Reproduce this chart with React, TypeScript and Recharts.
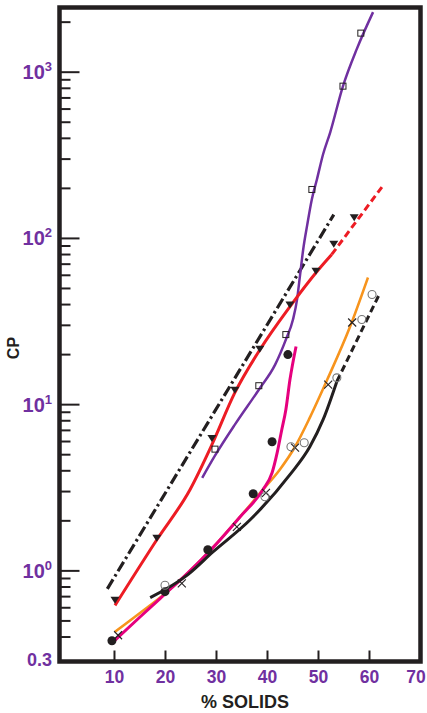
import React from 'react';
import { ComposedChart, Line, Scatter, XAxis, YAxis, ReferenceArea } from 'recharts';

// ---- axis settings / tick labels ----
const X_MIN = -0.78;
const X_MAX = 70;
const Y_MIN = 0.285;
const Y_MAX = 2450;
const X_TICKS = [10, 20, 30, 40, 50, 60, 70];
const Y_TICKS = [
  0.3, 0.4, 0.5, 0.6, 0.7, 0.8, 0.9,
  1, 2, 3, 4, 5, 6, 7, 8, 9,
  10, 20, 30, 40, 50, 60, 70, 80, 90,
  100, 200, 300, 400, 500, 600, 700, 800, 900,
  1000, 2000,
];
const Y_MAJOR_LABELS: Record<string, string> = { '1': '0', '10': '1', '100': '2', '1000': '3' };
const X_TITLE = '% SOLIDS';
const Y_TITLE = 'CP';

// ---- series (x = % solids, y = CP) ----
const dashDotLine: [number, number][] = [[8.6, 0.78], [53, 139]];
const redSolid: [number, number][] = [
  [10.1, 0.62], [18.3, 1.54], [24.8, 3.08], [29.1, 5.74], [33.6, 11.8],
  [38.5, 21.4], [44.4, 38.9], [49.7, 63.3], [52.6, 80.1],
];
const redDashed: [number, number][] = [[52.6, 80.1], [62.8, 211]];
const purpleLine: [number, number][] = [
  [27.2, 3.63], [29.7, 4.93], [33.6, 7.58], [38.3, 12.3], [41.5, 17.4],
  [43.6, 24.6], [45, 32.5], [45.8, 43], [46.4, 60.7], [47, 85.8],
  [47.8, 121], [48.7, 172], [49.7, 227], [50.9, 321], [52.3, 435],
  [54.8, 824], [57.5, 1376], [60.7, 2298],
];
const magentaLine: [number, number][] = [
  [9.7, 0.373], [15, 0.528], [19.9, 0.726], [24.4, 0.972], [29.3, 1.38],
  [34.6, 2.11], [39.1, 3.08], [40.9, 3.89], [41.9, 5.14], [42.8, 7.07],
  [43.6, 9.33], [44.4, 14.1], [45.6, 22.4],
];
const orangeLine: [number, number][] = [
  [10.1, 0.43], [15, 0.558], [20.3, 0.747], [24.4, 0.972], [29.3, 1.38],
  [34.6, 2.11], [39.1, 3.08], [42.4, 4.06], [45.4, 5.58], [48.3, 8.35],
  [51.7, 14.1], [56.2, 29.5], [59.7, 58.2],
];
const blackSolid: [number, number][] = [
  [17, 0.69], [24.4, 0.95], [29.3, 1.3], [36.6, 2.03], [44.4, 3.79],
  [48.3, 5.58], [50.9, 8.12], [53.6, 13.8],
];
const blackDashed: [number, number][] = [[53.6, 13.8], [62.1, 47.3]];

const triangleMarkers: [number, number][] = [
  [10.1, 0.67], [18.3, 1.58], [29.1, 6.3], [33.6, 12.3], [38.5, 21.7],
  [44.4, 40], [49.5, 64], [53, 93], [57, 134],
];
const squareMarkers: [number, number][] = [
  [29.7, 5.4], [38.3, 13], [43.6, 26.4], [48.7, 197], [54.8, 824], [58.3, 1718],
];
const dotMarkers: [number, number][] = [
  [9.5, 0.38], [19.9, 0.75], [28.3, 1.34], [37.2, 2.91], [40.9, 5.98], [44, 20],
];
const crossMarkers: [number, number][] = [
  [10.7, 0.41], [23.2, 0.84], [34, 1.84], [39.7, 2.95], [45.4, 5.51], [51.9, 13.2], [56.6, 31.2],
];
const ringMarkers: [number, number][] = [
  [19.9, 0.82], [39.5, 2.79], [44.6, 5.58], [47.2, 5.9], [53.6, 14.5], [58.5, 32.5], [60.5, 46],
];

const toRows = (pts: [number, number][]) => pts.map(([x, y]) => ({ x, y }));

// ---- colours / styles ----
const PURPLE = '#7030a0';
const RED = '#ed1c24';
const MAGENTA = '#e6007e';
const ORANGE = '#f7941d';
const BLACK = '#231f20';
const FONT = '"Liberation Sans", Arial, sans-serif';

const XTick = (props: any) => {
  const { x, y, payload } = props;
  const last = payload.value === X_MAX;
  return (
    <g>
      <line x1={x} x2={x} y1={y} y2={y - 11} stroke={BLACK} strokeWidth={2} />
      <text x={last ? x - 4.5 : x} y={y + 21.5} textAnchor="middle" fill={PURPLE} fontFamily={FONT} fontWeight="bold" fontSize={17.5}>
        {payload.value}
      </text>
    </g>
  );
};

const YTick = (props: any) => {
  const { x, y, payload } = props;
  const v = payload.value;
  const sup = Y_MAJOR_LABELS[String(v)];
  const major = sup !== undefined;
  return (
    <g>
      {v !== 0.3 && (
        <line x1={x} x2={x + (major ? 20 : 11)} y1={y} y2={y} stroke={BLACK} strokeWidth={2} />
      )}
      {major && (
        <text x={x - 7.5} y={y + 7} textAnchor="end" fill={PURPLE} fontFamily={FONT} fontWeight="bold" fontSize={20}>
          10<tspan dy={-8} fontSize={13}>{sup}</tspan>
        </text>
      )}
      {v === 0.3 && (
        <text x={x - 7.5} y={y + 8} textAnchor="end" fill={PURPLE} fontFamily={FONT} fontWeight="bold" fontSize={18}>
          0.3
        </text>
      )}
    </g>
  );
};

const Triangle = (p: any) => {
  const { cx, cy } = p;
  return <polygon points={`${cx - 4.5},${cy - 3} ${cx + 4.5},${cy - 3} ${cx},${cy + 4}`} fill={BLACK} />;
};
const Square = (p: any) => {
  const { cx, cy } = p;
  return <rect x={cx - 3} y={cy - 3} width={6} height={6} fill="none" stroke={BLACK} strokeWidth={1} />;
};
const Dot = (p: any) => {
  const { cx, cy } = p;
  return <circle cx={cx} cy={cy} r={4.5} fill={BLACK} />;
};
const Cross = (p: any) => {
  const { cx, cy } = p;
  return (
    <g stroke={BLACK} strokeWidth={1.1}>
      <line x1={cx - 4} y1={cy - 4} x2={cx + 4} y2={cy + 4} />
      <line x1={cx - 4} y1={cy + 4} x2={cx + 4} y2={cy - 4} />
    </g>
  );
};
const Ring = (p: any) => {
  const { cx, cy } = p;
  return <circle cx={cx} cy={cy} r={4} fill="none" stroke="#777" strokeWidth={1.1} />;
};

export default function App() {
  return (
    <div style={{ position: 'absolute', left: 0, top: 0, width: 427, height: 713, background: '#fff' }}>
      <ComposedChart width={427} height={713} margin={{ top: 7.5, right: 6.5, bottom: 0, left: 0 }}>
        <XAxis
          type="number"
          dataKey="x"
          domain={[X_MIN, X_MAX]}
          allowDataOverflow
          ticks={X_TICKS}
          interval={0}
          tick={<XTick />}
          tickLine={false}
          axisLine={false}
          tickSize={0}
          tickMargin={0}
          height={51.5}
        />
        <YAxis
          type="number"
          dataKey="y"
          scale="log"
          domain={[Y_MIN, Y_MAX]}
          allowDataOverflow
          ticks={Y_TICKS}
          interval={0}
          tick={<YTick />}
          tickLine={false}
          axisLine={false}
          tickSize={0}
          tickMargin={0}
          width={59.5}
        />
        <Line data={toRows(dashDotLine)} dataKey="y" type="linear" stroke={BLACK} strokeWidth={3.2} strokeDasharray="11 3.5 2.5 3.5" dot={false} isAnimationActive={false} />
        <Line data={toRows(purpleLine)} dataKey="y" type="monotone" stroke={PURPLE} strokeWidth={2.5} dot={false} isAnimationActive={false} />
        <Line data={toRows(redSolid)} dataKey="y" type="monotone" stroke={RED} strokeWidth={3} dot={false} isAnimationActive={false} />
        <Line data={toRows(redDashed)} dataKey="y" type="linear" stroke={RED} strokeWidth={3} strokeDasharray="7 4" dot={false} isAnimationActive={false} />
        <Line data={toRows(orangeLine)} dataKey="y" type="monotone" stroke={ORANGE} strokeWidth={2.6} dot={false} isAnimationActive={false} />
        <Line data={toRows(magentaLine)} dataKey="y" type="monotone" stroke={MAGENTA} strokeWidth={3} dot={false} isAnimationActive={false} />
        <Line data={toRows(blackSolid)} dataKey="y" type="monotone" stroke={BLACK} strokeWidth={3} dot={false} isAnimationActive={false} />
        <Line data={toRows(blackDashed)} dataKey="y" type="linear" stroke={BLACK} strokeWidth={3} strokeDasharray="7 4" dot={false} isAnimationActive={false} />
        <Scatter data={toRows(triangleMarkers)} dataKey="y" shape={Triangle} isAnimationActive={false} />
        <Scatter data={toRows(squareMarkers)} dataKey="y" shape={Square} isAnimationActive={false} />
        <Scatter data={toRows(dotMarkers)} dataKey="y" shape={Dot} isAnimationActive={false} />
        <Scatter data={toRows(crossMarkers)} dataKey="y" shape={Cross} isAnimationActive={false} />
        <Scatter data={toRows(ringMarkers)} dataKey="y" shape={Ring} isAnimationActive={false} />
        <ReferenceArea x1={X_MIN} x2={X_MAX} y1={Y_MIN} y2={Y_MAX} fill="none" fillOpacity={0} stroke={BLACK} strokeWidth={4.5} ifOverflow="visible" />
      </ComposedChart>
      <svg width={427} height={713} style={{ position: 'absolute', left: 0, top: 0, pointerEvents: 'none' }}>
        <text x={245} y={708} textAnchor="middle" fill={BLACK} fontFamily={FONT} fontWeight="bold" fontSize={18}>
          {X_TITLE}
        </text>
        <text x={19} y={348} textAnchor="middle" fill={BLACK} fontFamily={FONT} fontWeight="bold" fontSize={16} transform="rotate(-90 19 348)">
          {Y_TITLE}
        </text>
      </svg>
    </div>
  );
}
